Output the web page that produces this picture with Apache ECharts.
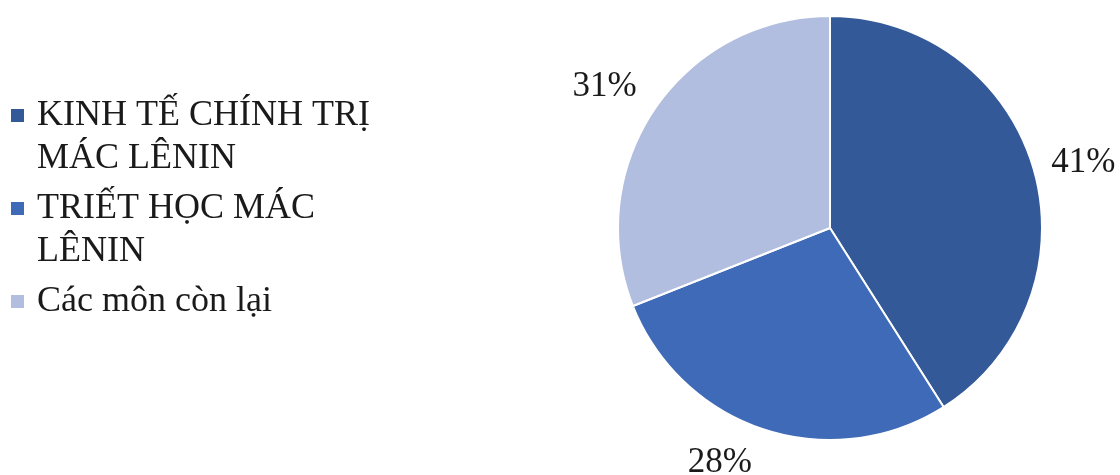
<!DOCTYPE html>
<html>
<head>
<meta charset="utf-8">
<script src="https://cdn.jsdelivr.net/npm/echarts@6/dist/echarts.min.js"></script>
<style>
	html, body {margin: 0; padding: 0; background: #fff;}
	#chart {width: 1120px; height: 475px;}
</style>
</head>
<body>
<div id="chart"></div>
<script>
// tên môn học và tỉ lệ (%)
const subjects = ['KINH TẾ CHÍNH TRỊ\nMÁC LÊNIN', 'TRIẾT HỌC MÁC\nLÊNIN', 'Các môn còn lại'];
const shares = [41, 28, 31];
const colors = ['#335999', '#3F6AB7', '#B2BEDF'];
// chỉnh nhẹ vị trí nhãn %
const labelNudge = [[-20, 3], [3, 6], [15, -3]];

const font = "'Liberation Serif', 'Times New Roman', serif";
const lineH = 43;

const chart = echarts.init(document.getElementById('chart'));

const option = {
	animation: false,
	color: colors,
	legend: {
		orient: 'vertical',
		left: 9,
		top: 51,
		padding: 0,
		itemGap: -36,
		itemWidth: 15,
		itemHeight: 15,
		icon: 'rect',
		// thêm dòng trống để ô màu ngang dòng đầu
		formatter: function (name) {
			return name.indexOf('\n') >= 0 ? ' \n' + name : ' \n' + name + '\n ';
		},
		textStyle: {
			fontFamily: font,
			fontSize: 36,
			color: '#1a1a1a',
			lineHeight: lineH,
			padding: [0, 0, 0, 7]
		},
		data: subjects
	},
	series: [
		{
			type: 'pie',
			center: [830, 228],
			radius: 212,
			startAngle: 90,
			clockwise: true,
			itemStyle: {
				borderColor: '#fff',
				borderWidth: 2
			},
			label: {
				show: true,
				position: 'outside',
				formatter: '{c}%',
				fontFamily: font,
				fontSize: 35,
				color: '#1a1a1a',
				overflow: 'none'
			},
			labelLine: {
				show: false,
				length: 34,
				length2: 0
			},
			labelLayout: function (p) {
				return {dx: labelNudge[p.dataIndex][0], dy: labelNudge[p.dataIndex][1]};
			},
			emphasis: {disabled: true},
			data: subjects.map(function (name, i) {
				return {name: name, value: shares[i]};
			})
		}
	]
};

chart.setOption(option);
</script>
</body>
</html>
